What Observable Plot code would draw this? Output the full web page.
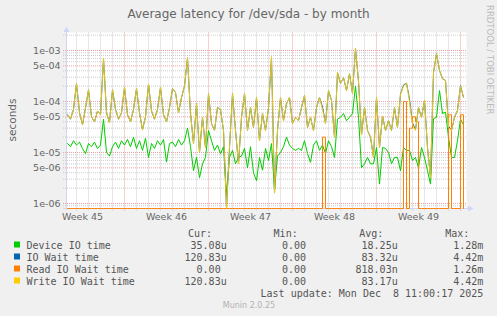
<!DOCTYPE html>
<html><head><meta charset="utf-8">
<script src="https://cdn.jsdelivr.net/npm/d3@7"></script>
<script src="https://cdn.jsdelivr.net/npm/@observablehq/plot@0.6"></script>
<style>
html,body{margin:0;padding:0;background:#F0F0F0;}
#wrap{position:relative;width:497px;height:316px;overflow:hidden;background:#F0F0F0;}
#chart{position:absolute;left:0;top:0;}
#over{position:absolute;left:0;top:0;pointer-events:none;}
</style></head><body>
<div id="wrap"><div id="chart"></div><svg id="over" width="497" height="316" xmlns="http://www.w3.org/2000/svg"></svg></div>
<script>
// ---------- texts ----------
const title = "Average latency for /dev/sda - by month";
const yLabel = "seconds";
const sideText = "RRDTOOL / TOBI OETIKER";
const footer = "Munin 2.0.25";
const lastUpdate = "Last update: Mon Dec  8 11:00:17 2025";
const legendHeaders = ["Cur:", "Min:", "Avg:", "Max:"];
const legendNames = ["Device IO time", "IO Wait time", "Read IO Wait time", "Write IO Wait time"];
const legendColors = ["#00CC00", "#0066B3", "#FF8000", "#FFCC00"];
const legendCur = ["35.08u", "120.83u", "0.00 ", "120.83u"];
const legendMin = ["0.00 ", "0.00 ", "0.00 ", "0.00 "];
const legendAvg = ["18.25u", "83.32u", "818.03n", "83.17u"];
const legendMax = ["1.28m", "4.42m", "1.26m", "4.42m"];

// ---------- axes ----------
const yMajorTicks = [1e-3, 5e-4, 1e-4, 5e-5, 1e-5, 5e-6, 1e-6];
const yTickLabels = ["1e-03", "5e-04", "1e-04", "5e-05", "1e-05", "5e-06", "1e-06"];
const weekLabels = ["Week 45", "Week 46", "Week 47", "Week 48", "Week 49"];
const weekStarts = ["2025-11-03T00:00:00Z", "2025-11-10T00:00:00Z", "2025-11-17T00:00:00Z", "2025-11-24T00:00:00Z", "2025-12-01T00:00:00Z"];
const domainStart = "2025-11-05T04:00:00Z";
const domainEnd = "2025-12-08T12:00:00Z";

// ---------- data (microseconds, one sample every 6 hours) ----------
const firstSample = "2025-11-05T06:00:00Z";
const stepHours = 6;
const deviceIO = [15,13,17,14,16,12,9.5,15,13,16,12,14,45,10,8.5,13,16,12,17,14,
 18,13,20,12,17,11,19,8,15,12,17,14,18,6.5,15,16,13,18,14,
 17,30,13,4.4,8,3.2,6,8,27,17,11,14,9.4,13,1.5,8,11,6,8,
 8.5,12,5,13,4,2.8,8,4.5,12,7,15,1.8,8.5,10,13,20,14,12,11,12,
 11,17,9.5,6.4,14,17,11,14,9.5,17,13,8,45,49,58,42,49,58,200,
 49,5,6,8,6,6,12.5,2.4,12.5,12,10,6,8,8,4.4,12.5,11,11,7,8,
 5,12.5,8,4.4,2.4,46,49,164,58,62,20,8,8,17,45,35];
const ioWait = [55,45,70,225,60,35,75,170,50,40,65,55,700,60,38,170,70,45,60,190,
 55,40,70,180,60,28,50,220,65,45,70,190,55,40,75,180,150,60,120,
 200,720,58,15,91,10,49,12.5,143,37,27,76,70,27,0.8,12.5,143,27,6,
 49,143,27,76,31,120,17,58,27,76,750,1.6,27,120,42,91,120,37,49,42,
 76,131,31,49,27,76,120,78,37,164,105,20,370,225,295,164,350,143,1100,
 250,22,76,27,20,8,120,12.5,52,27,42,27,76,31,140,210,230,112,38,28,
 76,49,105,12.5,3.2,370,870,405,280,260,33,27,49,67,205,121];
const readWait = [0,0,0,0,0,0,0,0,0,0,0,0,0,0,0,0,0,0,0,0,
 0,0,0,0,0,0,0,0,0,0,0,0,0,0,0,0,0,0,0,
 0,0,0,0,0,0,0,0,0,0,0,0,0,0,0,0,0,0,0,
 0,0,0,0,0,0,0,0,0,0,0,0,0,0,0,0,0,0,0,0,
 0,0,0,0,0,0,0,20,0,0,0,0,0,0,0,0,0,0,0,
 0,0,0,0,0,0,0,0,0,0,0,0,0,0,0,100,0,30,50,40,
 0,0,0,0,0,0,0,0,0,0,55,0,0,0,55,0];
const writeWait = [55,45,70,225,60,35,75,170,50,40,65,55,700,60,38,170,70,45,60,190,
 55,40,70,180,60,28,50,220,65,45,70,190,55,40,75,180,150,60,120,
 200,720,58,15,91,10,49,12.5,143,37,27,76,70,27,0.8,12.5,143,27,6,
 49,143,27,76,31,120,17,58,27,76,750,1.6,27,120,42,91,120,37,49,42,
 76,131,31,49,27,76,120,70,37,164,105,20,370,225,295,164,350,143,1100,
 250,22,76,27,20,8,120,12.5,52,27,42,27,76,31,140,200,230,100,35,27,
 76,49,105,12.5,3.2,370,870,405,280,260,31,27,49,67,200,121];

// ---------- build ----------
const hourMs = 3600e3;
const xStart = new Date(Date.parse(domainStart));
const xEnd = new Date(Date.parse(domainEnd));
const plotW = 400, plotH = 176;
const pxPerHour = plotW / ((xEnd - xStart) / hourMs);
const shiftPx = (date, px) => new Date(+date + px / pxPerHour * hourMs);
const yBottom = 7.98e-7, yTop = 2.254e-3;
const decadePx = plotH / Math.log10(yTop / yBottom);
const shiftY = (v, px) => v * Math.pow(10, px / decadePx);

const t0 = Date.parse(firstSample);
const toRows = arr => arr.map((v, i) => ({t: new Date(t0 + i * stepHours * hourMs), v: v * 1e-6}));
const devRows = toRows(deviceIO), ioRows = toRows(ioWait), readRows = toRows(readWait), writeRows = toRows(writeWait);

const yMinor = [];
for (let e = -7; e <= -3; e++) for (let m = 2; m <= 9; m++) {
  if (m === 5) continue;
  const v = m * Math.pow(10, e);
  if (v > yBottom && v < yTop) yMinor.push(v);
}
const weekLines = d3.utcMonday.range(xStart, xEnd);
const dayLines = d3.utcDay.range(xStart, xEnd).filter(d => d.getUTCDay() !== 1);
const gridMinor = "#cccccc", gridMajor = "#f0a0a0", axisColor = "#CFD6F8", fontColor = "#666666";

const chart = Plot.plot({
  width: 497, height: 232,
  marginLeft: 66, marginRight: 31, marginTop: 32, marginBottom: 24,
  style: {background: "transparent", overflow: "visible", fontFamily: "DejaVu Sans"},
  x: {type: "utc", domain: [xStart, xEnd], axis: null},
  y: {type: "log", domain: [yBottom, yTop], axis: null},
  marks: [
    Plot.frame({fill: "white", stroke: "none"}),
    Plot.ruleY(yMinor, {x1: () => shiftPx(xStart, -3), x2: () => xEnd, stroke: gridMinor, strokeDasharray: "1,1"}),
    Plot.ruleX(dayLines, {y1: () => shiftY(yBottom, -2.5), y2: () => yTop, stroke: gridMinor, strokeDasharray: "1,1"}),
    Plot.ruleY(yMajorTicks, {x1: () => shiftPx(xStart, -3), x2: () => xEnd, stroke: gridMajor, strokeDasharray: "1,1"}),
    Plot.ruleX(weekLines, {y1: () => shiftY(yBottom, -2.5), y2: () => yTop, stroke: gridMajor, strokeDasharray: "1,1"}),
    Plot.ruleX([xStart], {y1: () => shiftY(yBottom, -2), y2: () => shiftY(yTop, 3), stroke: axisColor}),
    Plot.ruleY([yBottom], {x1: () => shiftPx(xStart, -3), x2: () => shiftPx(xEnd, 2), stroke: axisColor}),
    Plot.text(yMajorTicks, {x: () => xStart, y: d => d, text: (d, i) => yTickLabels[i], textAnchor: "end", dx: -6, fontSize: 9.5, fill: fontColor}),
    Plot.text(weekStarts, {x: d => new Date(Date.parse(d) + 84 * hourMs), y: () => yBottom, text: (d, i) => weekLabels[i], lineAnchor: "bottom", dy: 11.5, fontSize: 9.5, fill: fontColor}),
    Plot.line(devRows, {x: "t", y: "v", stroke: legendColors[0], strokeWidth: 1}),
    Plot.line(ioRows, {x: "t", y: "v", stroke: legendColors[1], strokeWidth: 1}),
    Plot.line(readRows, {x: "t", y: d => Math.max(d.v, yBottom), stroke: legendColors[2], strokeWidth: 1, curve: "step-after"}),
    Plot.line(writeRows, {x: "t", y: "v", stroke: legendColors[3], strokeWidth: 1, strokeOpacity: 0.92})
  ]
});
document.getElementById("chart").appendChild(chart);

// ---------- overlay: title, labels, legend ----------
const charW = 6.02;
const colEnds = [226.7, 312, 397.7, 483.3];
const headEnds = [212, 297.7, 383.3, 469.3];
const rowBase = [248.5, 260.5, 272.5, 284.5];
const mono = 'font-family="DejaVu Sans Mono" font-size="10" fill="#555"';
let s = "";
s += `<text x="248.5" y="18" text-anchor="middle" font-family="DejaVu Sans" font-size="12" fill="${fontColor}">${title}</text>`;
s += `<text transform="translate(15.5,120) rotate(-90)" text-anchor="middle" font-family="DejaVu Sans" font-size="10.5" fill="${fontColor}">${yLabel}</text>`;
s += `<text transform="translate(486.5,5) rotate(90)" text-anchor="start" font-family="DejaVu Sans" font-size="8.5" fill="#bbbbbb">${sideText}</text>`;
s += `<polygon points="63.5,32 69.5,32 66.5,26.5" fill="${axisColor}"/>`;
s += `<polygon points="468,205.5 468,211.5 473.5,208.5" fill="${axisColor}"/>`;
legendHeaders.forEach((h, j) => { s += `<text x="${headEnds[j]}" y="237" text-anchor="end" ${mono}>${h}</text>`; });
const cols = [legendCur, legendMin, legendAvg, legendMax];
legendNames.forEach((n, i) => {
  const yb = rowBase[i];
  s += `<rect x="14" y="${yb - 7}" width="6" height="6" fill="${legendColors[i]}"/>`;
  s += `<text x="26.5" y="${yb}" ${mono}>${n}</text>`;
  cols.forEach((c, j) => {
    const v = c[i];
    const trimmed = v.trimEnd();
    const x = colEnds[j] - (v.length - trimmed.length) * charW;
    s += `<text x="${x}" y="${yb}" text-anchor="end" ${mono}>${trimmed}</text>`;
  });
});
s += `<text x="483.3" y="296.5" text-anchor="end" ${mono} style="white-space:pre">${lastUpdate}</text>`;
s += `<text x="249" y="308" text-anchor="middle" font-family="DejaVu Sans" font-size="8" fill="#b0b0b0">${footer}</text>`;
document.getElementById("over").innerHTML = s;
</script>
</body></html>
